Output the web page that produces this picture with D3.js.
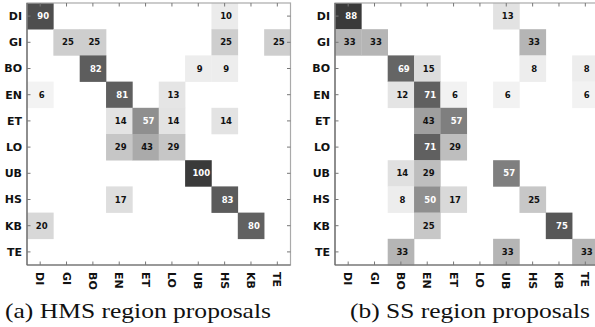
<!DOCTYPE html>
<html><head><meta charset="utf-8">
<script src="https://cdn.jsdelivr.net/npm/d3@7/dist/d3.min.js"></script>
<style>
html,body{margin:0;padding:0;background:#fff;}
svg{display:block;}
.cap{font-family:'Liberation Serif','DejaVu Serif','Times New Roman',Times,serif;}
</style></head>
<body>
<svg id="chart" width="595" height="327"></svg>
<script>
const categories = ["DI","GI","BO","EN","ET","LO","UB","HS","KB","TE"];
// rows = true class, columns = predicted class (percent)
const hmsValues = [
  [90,0,0,0,0,0,0,10,0,0],
  [0,25,25,0,0,0,0,25,0,25],
  [0,0,82,0,0,0,9,9,0,0],
  [6,0,0,81,0,13,0,0,0,0],
  [0,0,0,14,57,14,0,14,0,0],
  [0,0,0,29,43,29,0,0,0,0],
  [0,0,0,0,0,0,100,0,0,0],
  [0,0,0,17,0,0,0,83,0,0],
  [20,0,0,0,0,0,0,0,80,0],
  [0,0,0,0,0,0,0,0,0,0]
];
const ssValues = [
  [88,0,0,0,0,0,13,0,0,0],
  [33,33,0,0,0,0,0,33,0,0],
  [0,0,69,15,0,0,0,8,0,8],
  [0,0,12,71,6,0,6,0,0,6],
  [0,0,0,43,57,0,0,0,0,0],
  [0,0,0,71,29,0,0,0,0,0],
  [0,0,14,29,0,0,57,0,0,0],
  [0,0,8,50,17,0,0,25,0,0],
  [0,0,0,25,0,0,0,0,75,0],
  [0,0,33,0,0,0,33,0,0,33]
];
const captions = ["(a) HMS region proposals", "(b) SS region proposals"];

const svg = d3.select("#chart");

function panel(values, x0, caption, capX, capLen) {
  const W = 263.5, H = 262, top = 3;
  const x = d3.scaleBand().domain(categories).range([x0, x0 + W]).padding(0);
  const y = d3.scaleBand().domain(categories).range([top, top + H]).padding(0);
  const vmax = d3.max(values.flat());
  const color = d3.scaleLinear().domain([0, vmax]).range(["#ffffff", "#3a3a3a"]);
  const g = svg.append("g");
  const cells = [];
  values.forEach((row, i) => row.forEach((v, j) => { if (v > 0) cells.push({r: categories[i], c: categories[j], v}); }));
  g.selectAll("rect.cell").data(cells).enter().append("rect")
    .attr("x", d => x(d.c)).attr("y", d => y(d.r))
    .attr("width", x.bandwidth() + 0.3).attr("height", y.bandwidth() + 0.3)
    .attr("fill", d => color(d.v));
  g.selectAll("text.val").data(cells).enter().append("text")
    .attr("x", d => x(d.c) + x.bandwidth() / 2 + (d.v > vmax / 2 ? 3 : 1.5))
    .attr("y", d => y(d.r) + y.bandwidth() / 2)
    .attr("dy", "0.36em")
    .attr("text-anchor", "middle")
    .style("font-family", "DejaVu Sans").style("font-weight", "bold").style("font-size", "8.5px")
    .attr("fill", d => d.v > vmax / 2 ? "#ffffff" : "#111111")
    .text(d => d.v);

  // frame
  g.append("rect").attr("x", x0).attr("y", top).attr("width", W).attr("height", H)
    .attr("fill", "none").attr("stroke", "#aaaaaa").attr("stroke-width", 1.2);
  g.append("line").attr("x1", x0).attr("x2", x0).attr("y1", top).attr("y2", top + H).attr("stroke", "#666").attr("stroke-width", 1.2);
  g.append("line").attr("x1", x0).attr("x2", x0 + W).attr("y1", top + H).attr("y2", top + H).attr("stroke", "#666").attr("stroke-width", 1.2);

  const tickStyle = sel => {
    sel.select(".domain").remove();
    sel.selectAll(".tick line").attr("stroke", "#777");
    sel.selectAll(".tick text").style("font-family", "DejaVu Sans").style("font-weight", "bold")
      .style("font-size", "11px").attr("fill", "#111");
  };
  const axL = g.append("g").attr("transform", `translate(${x0},0)`)
    .call(d3.axisLeft(y).tickSizeInner(-3.5).tickSizeOuter(0).tickPadding(5)).call(tickStyle);
  axL.selectAll(".tick text").attr("dy", "0.36em");
  g.append("g").attr("transform", `translate(${x0 + W},0)`)
    .call(d3.axisRight(y).tickSizeInner(-3.5).tickSizeOuter(0).tickFormat("")).call(tickStyle);
  g.append("g").attr("transform", `translate(0,${top})`)
    .call(d3.axisTop(x).tickSizeInner(-3.5).tickSizeOuter(0).tickFormat("")).call(tickStyle);
  const axB = g.append("g").attr("transform", `translate(0,${top + H})`)
    .call(d3.axisBottom(x).tickSizeInner(-3.5).tickSizeOuter(0)).call(tickStyle);
  axB.selectAll(".tick text")
    .attr("transform", "rotate(90)")
    .attr("x", 7).attr("y", 0).attr("dy", "0.36em")
    .attr("text-anchor", "start");

  svg.append("text").attr("class", "cap").attr("x", capX).attr("y", 318)
    .attr("font-size", 22).attr("fill", "#111")
    .attr("textLength", capLen).attr("lengthAdjust", "spacingAndGlyphs")
    .text(caption);
}

panel(hmsValues, 27, captions[0], 5, 266);
panel(ssValues, 335, captions[1], 350, 240);
</script>
</body></html>
